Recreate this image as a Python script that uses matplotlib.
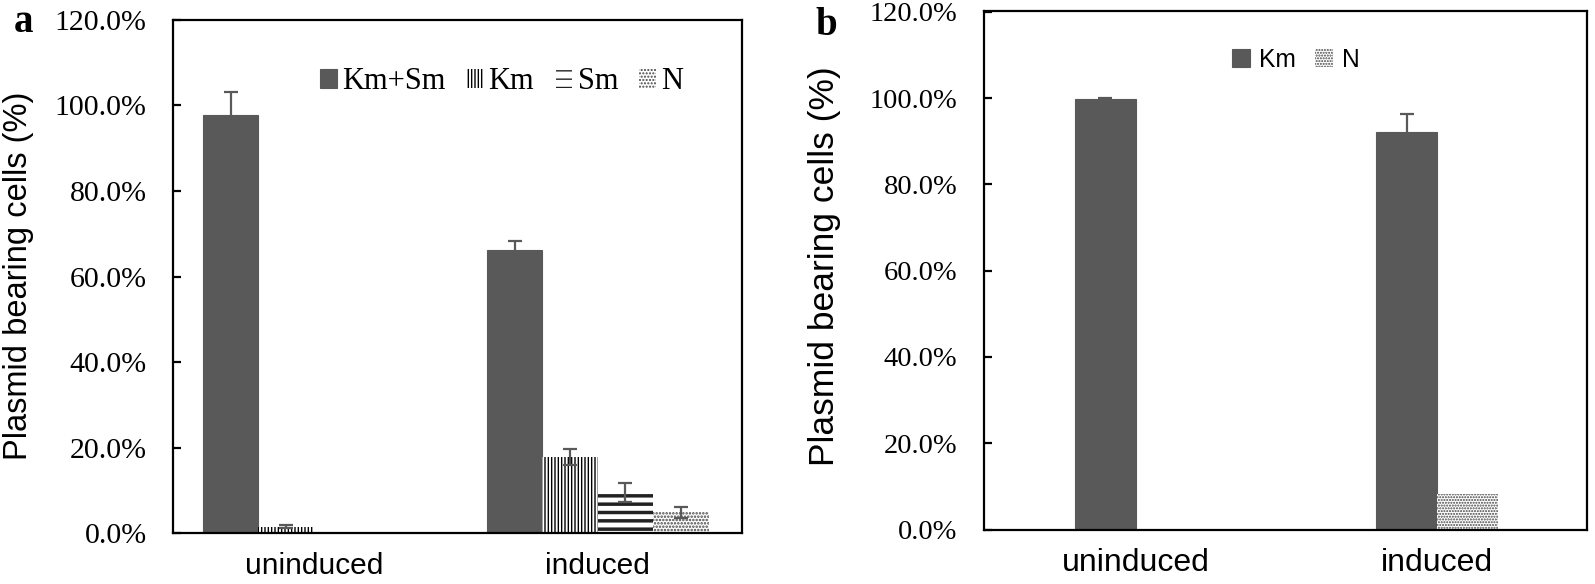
import numpy as np
import matplotlib
matplotlib.use("Agg")
import matplotlib.pyplot as plt
from matplotlib.ticker import PercentFormatter, MultipleLocator

# panel a
groups = ["uninduced", "induced"]
series_a = ["Km+Sm", "Km", "Sm", "N"]
values_a = {
    "Km+Sm": [97.8, 66.2],
    "Km": [1.6, 17.9],
    "Sm": [0.0, 9.6],
    "N": [0.0, 4.9],
}
errors_a = {
    "Km+Sm": [5.2, 2.1],
    "Km": [0.3, 1.8],
    "Sm": [0.0, 2.3],
    "N": [0.0, 1.2],
}

# panel b
series_b = ["Km", "N"]
values_b = {
    "Km": [99.8, 92.2],
    "N": [0.0, 8.2],
}
errors_b = {
    "Km": [0.3, 4.2],
    "N": [0.0, 0.0],
}

GRAY = "#595959"
SERIF = "Liberation Serif"
SANS = "Liberation Sans"

styles_a = {
    "Km+Sm": dict(color=GRAY, edgecolor=GRAY, hatch=None),
    "Km": dict(color="white", edgecolor="black", hatch="|||||"),
    "Sm": dict(color="white", edgecolor="#222222", hatch="--"),
    "N": dict(color="white", edgecolor="#444444", hatch="....."),
}
styles_b = {
    "Km": dict(color=GRAY, edgecolor=GRAY, hatch=None),
    "N": dict(color="white", edgecolor="#444444", hatch="......"),
}

fig = plt.figure(figsize=(15.95, 5.84), dpi=100)


def draw_panel(ax, series, values, errors, styles, width, hatch_lw):
    x = np.arange(len(groups))
    n = len(series)
    for i, s in enumerate(series):
        off = (i - (n - 1) / 2) * width
        st = styles[s]
        bars = ax.bar(x + off, values[s], width, color=st["color"],
                      edgecolor=st["edgecolor"], hatch=st["hatch"],
                      linewidth=0 if st["hatch"] else 0.8, label=s, zorder=2)
        if st["hatch"]:
            for b in bars:
                if hasattr(b, "set_hatch_linewidth"):
                    b.set_hatch_linewidth(hatch_lw.get(s, 1.0))
        err = np.array(errors[s])
        keep = err > 0
        if keep.any():
            ax.errorbar((x + off)[keep], np.array(values[s])[keep],
                        yerr=err[keep], fmt="none", ecolor=GRAY,
                        elinewidth=1.6, capsize=5, capthick=1.6, zorder=3)
    for sp in ax.spines.values():
        sp.set_linewidth(1.6)
        sp.set_color("black")
    ax.yaxis.set_major_locator(MultipleLocator(20))
    ax.yaxis.set_major_formatter(PercentFormatter(xmax=100, decimals=1))
    ax.set_xticks(x)
    ax.tick_params(axis="y", direction="in", length=6, width=1.6, pad=19)
    ax.tick_params(axis="x", length=0, pad=13)


# ---- panel a ----
ax1 = fig.add_axes([0.1085, 0.0865, 0.3566, 0.880])
draw_panel(ax1, series_a, values_a, errors_a, styles_a, 0.195,
           {"Km": 1.0, "Sm": 2.5, "N": 1.2})
ax1.set_xlim(-0.495, 1.507)
ax1.set_ylim(0, 120)
ax1.set_xticklabels(groups, fontsize=21.5, family=SANS)
for lab in ax1.get_yticklabels():
    lab.set_fontfamily(SERIF)
    lab.set_fontsize(21.5)
ax1.legend(loc="center left", bbox_to_anchor=(0.258, 0.879), ncol=4,
           frameon=False, borderpad=0, borderaxespad=0,
           handlelength=0.55, handleheight=0.6, handletextpad=0.17,
           columnspacing=0.7, prop={"family": SERIF, "size": 22})
fig.text(0.002, 1 - 276 / 584, "Plasmid bearing cells (%)", rotation=90,
         ha="left", va="center", fontsize=23.5, family=SANS)
fig.text(14 / 1595, 1 - 32 / 584, "a", fontsize=28, fontweight="bold",
         family=SERIF, ha="left", va="baseline")

# ---- panel b ----
ax2 = fig.add_axes([0.6169, 0.0933, 0.378, 0.888])
draw_panel(ax2, series_b, values_b, errors_b, styles_b, 0.2025, {"N": 1.0})
ax2.set_xlim(-0.5045, 1.497)
ax2.set_ylim(0, 120.2)
ax2.set_xticklabels(groups, fontsize=23, family=SANS)
for lab in ax2.get_yticklabels():
    lab.set_fontfamily(SERIF)
    lab.set_fontsize(20.5)
ax2.legend(loc="center left", bbox_to_anchor=(0.411, 0.906), ncol=2,
           frameon=False, borderpad=0, borderaxespad=0,
           handlelength=0.73, handleheight=0.75, handletextpad=0.37,
           columnspacing=0.8, prop={"family": SANS, "size": 17.7})
fig.text(808 / 1595, 1 - 266.5 / 584, "Plasmid bearing cells (%)",
         rotation=90, ha="left", va="center", fontsize=25.5, family=SANS)
fig.text(815 / 1595, 1 - 35 / 584, "b", fontsize=28, fontweight="bold",
         family=SERIF, ha="left", va="baseline")

fig.savefig("out.png", dpi=100)
